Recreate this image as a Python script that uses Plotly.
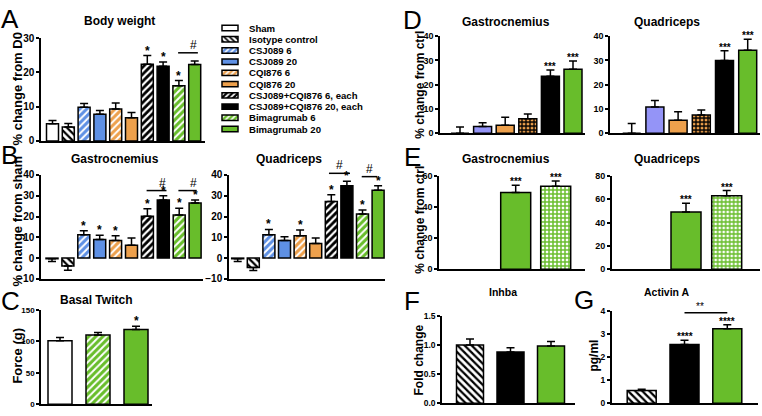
import plotly.graph_objects as go

W, H = 762, 416
FONT = "Liberation Sans"
BLUE = "#5e90e4"
ORANGE = "#eda04c"
GREEN = "#68bd2b"
LAV = "#9494f7"

# ---------------- data ----------------
legend_labels = ["Sham", "Isotype control", "CSJ089 6", "CSJ089 20", "CQI876 6", "CQI876 20",
                 "CSJ089+CQI876 6, each", "CSJ089+CQI876 20, each", "Bimagrumab 6", "Bimagrumab 20"]
legend_keys = ["sham", "iso", "csj6", "csj20", "cqi6", "cqi20", "combo6", "combo20", "bima6", "bima20"]

# A: body weight (% change from D0)
bw_mean = [5.0, 4.1, 9.8, 7.8, 9.3, 6.8, 22.4, 21.8, 16.1, 22.3]
bw_err = [1.0, 1.0, 1.1, 1.1, 1.8, 1.5, 2.5, 1.2, 1.5, 1.0]
bw_stars = ["", "", "", "", "", "", "*", "*", "*", ""]

# B: gastrocnemius / quadriceps (% change from sham)
gas_mean = [-0.3, -3.8, 11.2, 9.0, 8.5, 6.2, 20.2, 28.0, 20.7, 26.5]
gas_err = [1.3, 2.0, 2.0, 2.0, 2.3, 3.5, 3.5, 2.0, 3.3, 1.5]
gas_stars = ["", "", "*", "*", "*", "", "*", "*", "*", "*"]
quad_mean = [-0.3, -4.5, 11.2, 8.5, 10.8, 7.0, 27.2, 34.8, 21.2, 32.7]
quad_err = [1.3, 1.5, 2.6, 1.8, 2.7, 2.7, 3.3, 2.2, 2.0, 2.1]
quad_stars = ["", "", "*", "", "*", "", "*", "*", "*", "*"]

# C: basal twitch
tw_keys = ["sham", "bima6", "bima20"]
tw_mean = [101, 110, 119]
tw_err = [5, 4, 5]
tw_stars = ["", "", "*"]

# D: % change from ctrl
d_keys = ["sham", "lav", "cqi20", "check_or", "combo20", "bima20"]
dg_mean = [0.0, 2.8, 3.3, 6.0, 23.5, 26.3]
dg_err = [2.6, 1.5, 3.3, 1.9, 2.5, 3.4]
dq_mean = [0.0, 10.8, 5.3, 7.5, 30.0, 34.2]
dq_err = [4.0, 2.7, 3.5, 2.1, 4.0, 4.5]
d_stars = ["", "", "", "", "***", "***"]

# E
e_keys = ["bima20", "check_gr"]
eg_mean = [49.3, 53.3]
eg_err = [4.7, 3.5]
eq_mean = [49.0, 63.0]
eq_err = [7.5, 4.5]
e_stars = ["***", "***"]

# F: Inhba fold change
fg_keys = ["iso", "combo20", "bima20"]
f_mean = [1.0, 0.88, 0.98]
f_err = [0.10, 0.07, 0.08]

# G: Activin A
g_mean = [0.55, 2.55, 3.23]
g_err = [0.05, 0.18, 0.17]
g_stars = ["", "****", "****"]

# style: fill, pattern shape, pattern fg, pattern size, solidity
STY = {
    "sham": ("#ffffff", "", "#000000", 5, 0.4),
    "iso": ("#ffffff", "\\", "#000000", 5, 0.45),
    "csj6": (BLUE, "/", "#ffffff", 5, 0.4),
    "csj20": (BLUE, "", "#000000", 5, 0.4),
    "cqi6": (ORANGE, "/", "#ffffff", 5, 0.4),
    "cqi20": (ORANGE, "", "#000000", 5, 0.4),
    "combo6": ("#000000", "/", "#ffffff", 5, 0.45),
    "combo20": ("#000000", "", "#000000", 5, 0.4),
    "bima6": (GREEN, "/", "#ffffff", 5, 0.4),
    "bima20": (GREEN, "", "#000000", 5, 0.4),
    "lav": (LAV, "", "#000000", 5, 0.4),
    "check_or": (ORANGE, "+", "#000000", 4, 0.55),
    "check_gr": ("#ffffff", "+", GREEN, 4, 0.6),
}

fig = go.Figure()
annotations = []
shapes = []
layout = {}
PANELS = {}


def axname(k):
    return ("x" if k == 1 else f"x{k}"), ("y" if k == 1 else f"y{k}")


def add_panel(k, L, R, c0, s, ybot, ytop, ymin, ymax, dtick, tickfs=10, tickfmt=None):
    xd = [L / W, R / W]
    yd = [1 - ybot / H, 1 - ytop / H]
    xn, yn = axname(k)
    xkey = "xaxis" if k == 1 else f"xaxis{k}"
    ykey = "yaxis" if k == 1 else f"yaxis{k}"
    layout[xkey] = dict(domain=xd, range=[(L - c0) / s, (R - c0) / s], anchor=yn,
                        showline=True, linecolor="black", linewidth=1.5, ticks="",
                        showticklabels=False, showgrid=False, zeroline=False, fixedrange=True)
    yax = dict(domain=yd, range=[ymin, ymax], anchor=xn, showline=True, linecolor="black",
               linewidth=1.5, ticks="outside", ticklen=3, tickwidth=1.5, tickcolor="black",
               dtick=dtick, tick0=0, showgrid=False, zeroline=False, fixedrange=True,
               tickfont=dict(family=FONT, size=tickfs, color="black", weight="bold"))
    if tickfmt:
        yax["tickformat"] = tickfmt
    layout[ykey] = yax
    PANELS[k] = dict(yd=yd, ymin=ymin, ymax=ymax, xd=xd, xr=layout[xkey]["range"])


def ypaper(k, v):
    p = PANELS[k]
    return p["yd"][0] + (v - p["ymin"]) / (p["ymax"] - p["ymin"]) * (p["yd"][1] - p["yd"][0])


def xpaper(k, v):
    p = PANELS[k]
    return p["xd"][0] + (v - p["xr"][0]) / (p["xr"][1] - p["xr"][0]) * (p["xd"][1] - p["xd"][0])


def pattern_of(key):
    col, shp, fg, size, sol = STY[key]
    if shp:
        return col, dict(shape=shp, fgcolor=fg, bgcolor=col, size=size, solidity=sol,
                         fillmode="replace")
    return col, dict(shape="")


def add_bars(k, means, errs, keys, wfrac, stars=None, star_fs=12):
    xn, yn = axname(k)
    for i, (m, e, key) in enumerate(zip(means, errs, keys)):
        up = e if m >= 0 else 0
        dn = 0 if m >= 0 else e
        col, pat = pattern_of(key)
        fig.add_trace(go.Bar(
            x=[i], y=[m], width=wfrac, xaxis=xn, yaxis=yn, cliponaxis=False,
            marker=dict(color=col, line=dict(color="black", width=1.5), pattern=pat),
            error_y=dict(type="data", symmetric=False, array=[up], arrayminus=[dn],
                         color="black", thickness=1.5, width=4),
            showlegend=False, hoverinfo="skip"))
        if stars and stars[i]:
            annotations.append(dict(x=i, y=m + up, xref=xn, yref=yn, text=stars[i],
                                    showarrow=False, yanchor="bottom", yshift=-4,
                                    font=dict(family=FONT, size=star_fs, color="#000000",
                                              weight="bold")))


def sig_line(k, i, j, v, text, fs=12):
    y = ypaper(k, v)
    x0, x1 = xpaper(k, i), xpaper(k, j)
    shapes.append(dict(type="line", xref="paper", yref="paper", x0=x0, x1=x1, y0=y, y1=y,
                       line=dict(color="black", width=1.5)))
    annotations.append(dict(x=(x0 + x1) / 2, y=y, xref="paper", yref="paper", text=text,
                            showarrow=False, yanchor="bottom", yshift=-1,
                            font=dict(family=FONT, size=fs, color="#000000")))


def label(x, y, text, size, bold=True, angle=0):
    annotations.append(dict(x=x / W, y=1 - y / H, xref="paper", yref="paper", text=text,
                            showarrow=False, xanchor="center", yanchor="middle", textangle=angle,
                            font=dict(family=FONT, size=size, color="black",
                                      weight="bold" if bold else "normal")))


# ---------------- panels ----------------
# A
add_panel(1, 41, 205, 52.5, 15.8, 139, 33, 0, 30, 10)
add_bars(1, bw_mean, bw_err, legend_keys, 12 / 15.8, bw_stars)
sig_line(1, 7.95, 9.2, 25.7, "#")

# legend swatches (panel 2)
layout["xaxis2"] = dict(domain=[221 / W, 239 / W], range=[-1 / 16, 1 + 1 / 16], visible=False,
                        anchor="y2", fixedrange=True)
layout["yaxis2"] = dict(domain=[1 - 132 / H, 1 - 17 / H], range=[9.46, -0.49], visible=False,
                        anchor="x2", fixedrange=True)
for i, key in enumerate(legend_keys):
    col, pat = pattern_of(key)
    if pat.get("shape"):
        pat = dict(pat, size=4)
    fig.add_trace(go.Bar(
        y=[i], x=[1], base=0, orientation="h", width=0.48, xaxis="x2", yaxis="y2",
        cliponaxis=False, marker=dict(color=col, line=dict(color="black", width=1.5), pattern=pat),
        showlegend=False, hoverinfo="skip"))
for i, t in enumerate(legend_labels):
    annotations.append(dict(x=247 / W, y=i, xref="paper", yref="y2", text=t, showarrow=False,
                            xanchor="left", yanchor="middle",
                            font=dict(family=FONT, size=9.6, color="black", weight="bold")))

# B gastrocnemius
add_panel(3, 41, 203, 52, 15.9, 281, 174, -10, 40, 10)
add_bars(3, gas_mean, gas_err, legend_keys, 12 / 15.9, gas_stars)
sig_line(3, 5.95, 7.2, 32.5, "#")
sig_line(3, 7.95, 9.1, 32.5, "#")

# B quadriceps
add_panel(4, 229, 385, 237.7, 15.6, 281, 174, -10, 40, 10)
add_bars(4, quad_mean, quad_err, legend_keys, 12 / 15.6, quad_stars)
sig_line(4, 5.85, 7.2, 40.8, "#")
sig_line(4, 7.95, 8.95, 39.2, "#")

# C
add_panel(5, 41, 152, 60, 38, 410, 313, 0, 150, 50, tickfs=8)
add_bars(5, tw_mean, tw_err, tw_keys, 24 / 38, tw_stars)

# D
add_panel(6, 440, 585, 460, 22.6, 131, 31, 0, 40, 10, tickfs=9)
add_bars(6, dg_mean, dg_err, d_keys, 18 / 22.6, d_stars, star_fs=10)
add_panel(7, 610, 760, 631.7, 23.2, 131, 31, 0, 40, 10, tickfs=9)
add_bars(7, dq_mean, dq_err, d_keys, 18 / 23.2, d_stars, star_fs=10)

# E
add_panel(8, 439, 585, 515.7, 40, 271, 175, 0, 60, 20, tickfs=9)
add_bars(8, eg_mean, eg_err, e_keys, 30 / 40, e_stars, star_fs=10)
add_panel(9, 611.7, 760, 686, 40.7, 271, 175, 0, 80, 20, tickfs=9)
add_bars(9, eq_mean, eq_err, e_keys, 30 / 40.7, e_stars, star_fs=10)

# F
add_panel(10, 442, 575, 470, 40.5, 409, 319, 0, 1.5, 0.5, tickfs=8.5, tickfmt=".1f")
add_bars(10, f_mean, f_err, fg_keys, 27 / 40.5)

# G
add_panel(11, 611.7, 758, 641.7, 42.8, 409, 314, 0, 4, 1, tickfs=8.5)
add_bars(11, g_mean, g_err, fg_keys, 29 / 42.8, g_stars, star_fs=10)
sig_line(11, 1, 2, 3.92, "**", fs=10)

# ---------------- titles / labels ----------------
label(119, 15, "Body weight", 12)
label(115, 158, "Gastrocnemius", 12)
label(289, 158, "Quadriceps", 12)
label(96, 303, "Basal Twitch", 12)
label(506, 16, "Gastrocnemius", 12)
label(667, 16, "Quadriceps", 12)
label(506, 158, "Gastrocnemius", 12)
label(667, 158, "Quadriceps", 12)
label(503, 295, "Inhba", 10.5)
label(667, 295, "Activin A", 10.5)

label(18, 86, "% change from D0", 13, angle=-90)
label(18, 222, "% change from sham", 13, angle=-90)
label(18, 360, "Force (g)", 13, angle=-90)
label(420, 81, "% change from ctrl", 12, angle=-90)
label(420, 220, "% change from ctrl", 12, angle=-90)
label(419, 365, "Fold change", 12, angle=-90)
label(594, 360, "pg/ml", 12, angle=-90)

for x, y, t in [(10, 13, "A"), (9, 153, "B"), (10, 304, "C"), (412, 14, "D"),
                (412, 155, "E"), (412, 304, "F"), (584, 303, "G")]:
    label(x, y, t, 26, bold=False)

fig.update_layout(width=W, height=H, margin=dict(l=0, r=0, t=0, b=0), barmode="overlay",
                  paper_bgcolor="white", plot_bgcolor="white", showlegend=False,
                  annotations=annotations, shapes=shapes, **layout)

fig.write_html("out.html", config={"displayModeBar": False},
               post_script="document.body.style.margin='0px';document.body.style.overflow='hidden';")
